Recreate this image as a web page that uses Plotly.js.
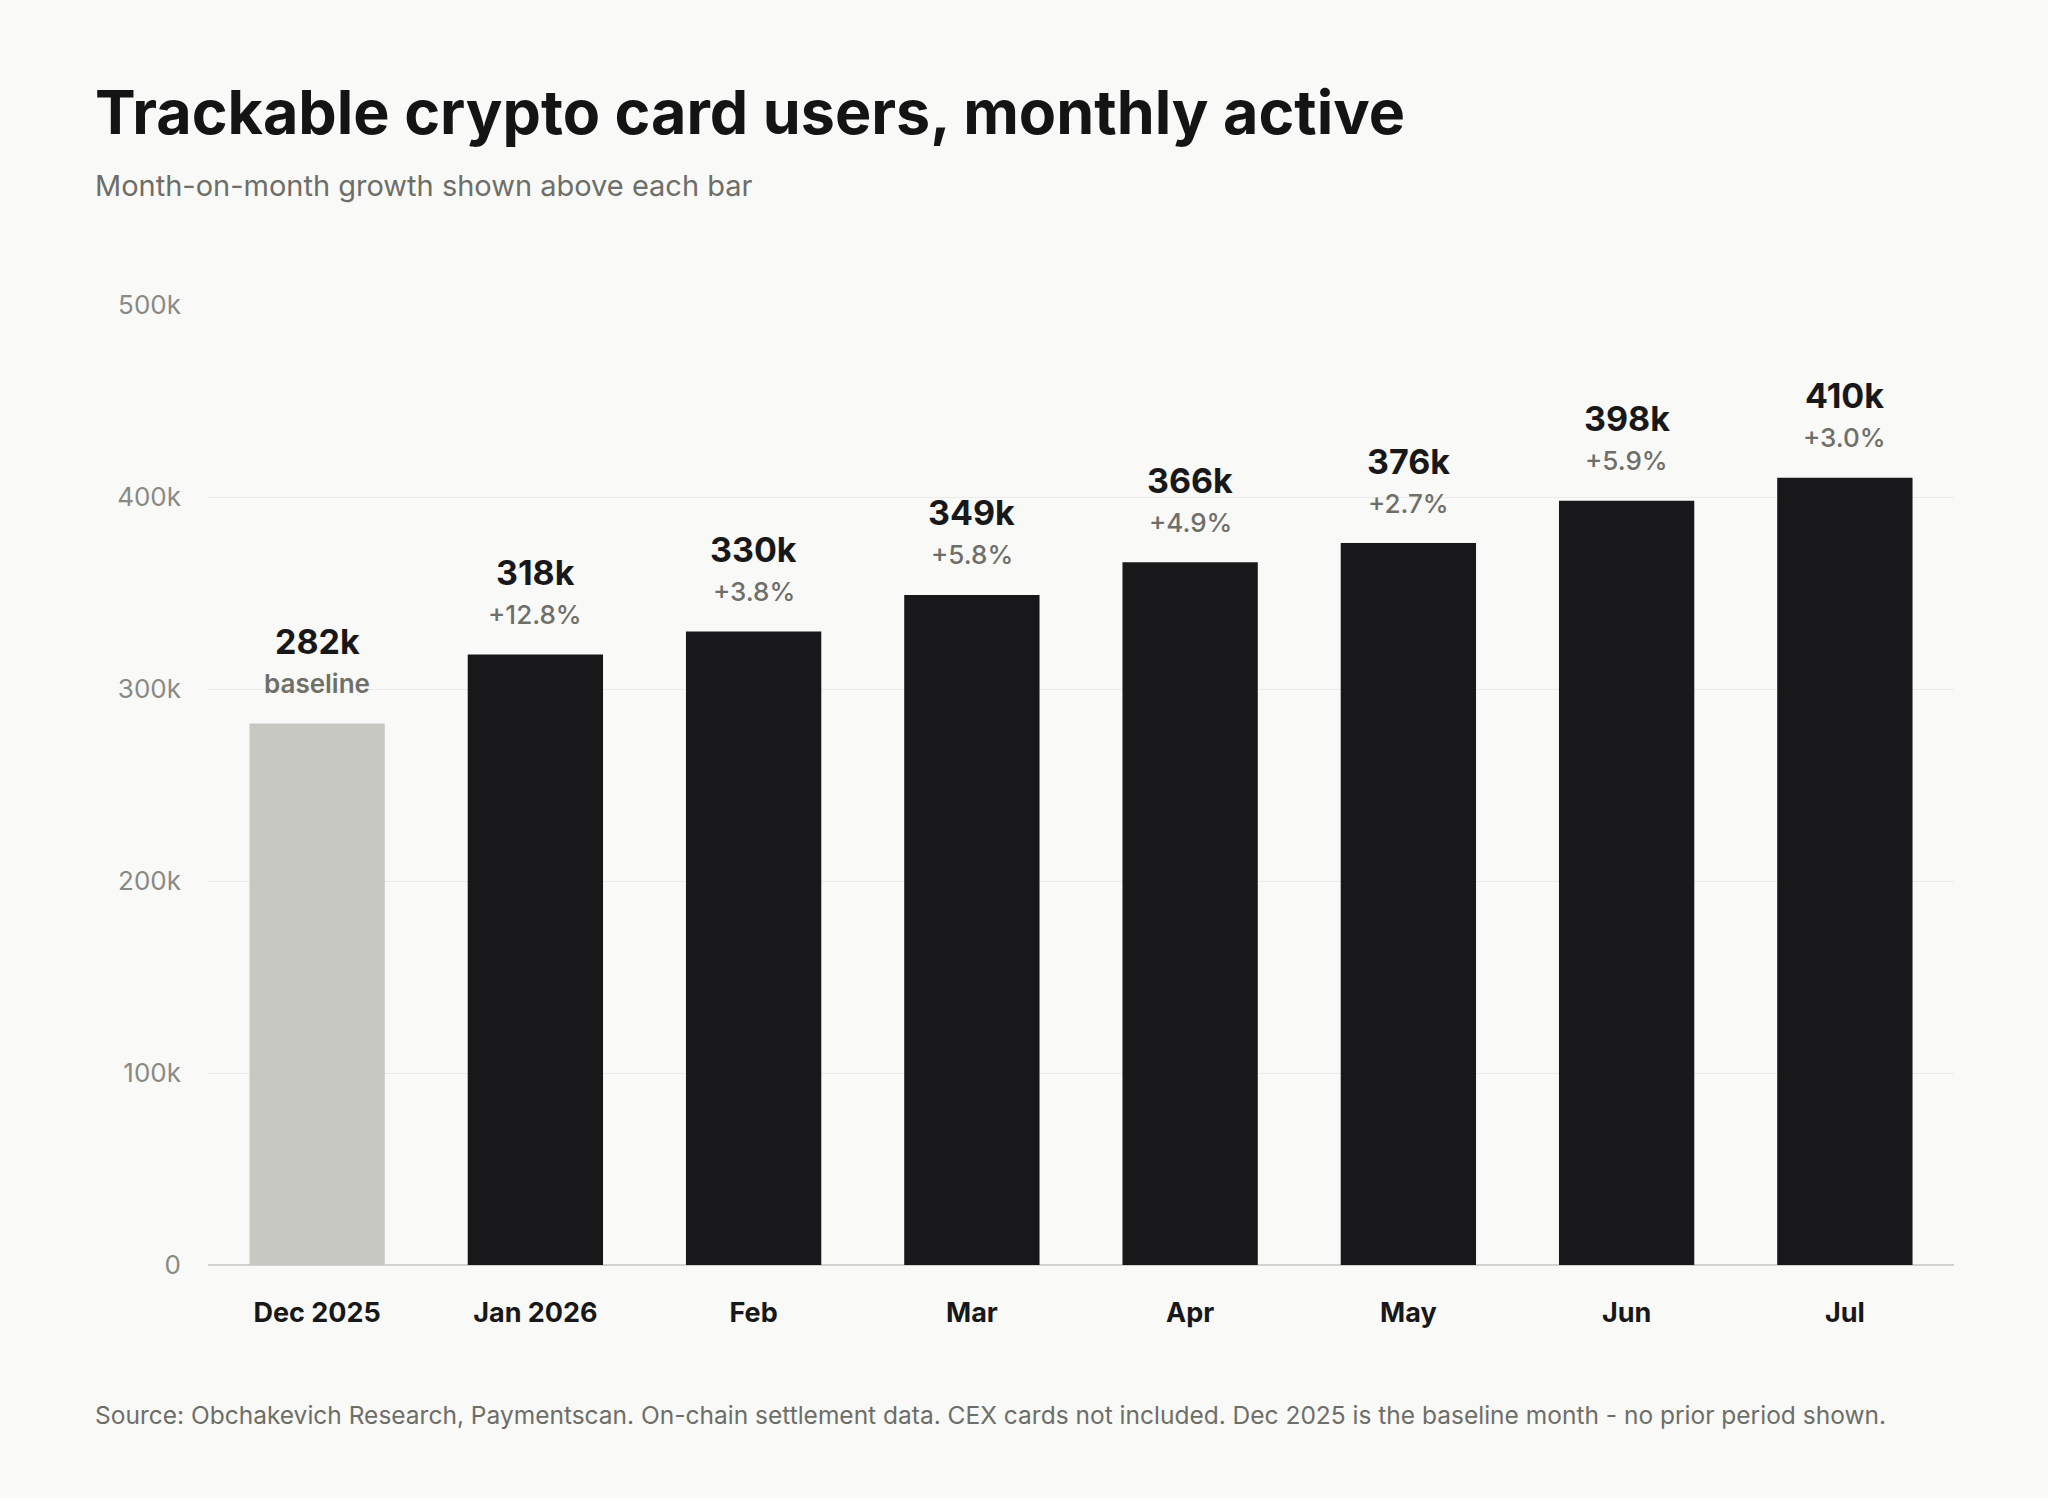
<!DOCTYPE html>
<html>
<head>
<meta charset="utf-8">
<script src="https://cdn.plot.ly/plotly-3.0.1.min.js"></script>
<style>
  html, body { margin: 0; padding: 0; background: #f9f9f7; }
  #chart { width: 2048px; height: 1498px; }
</style>
</head>
<body>
<div id="chart"></div>
<script>
// chart values
const months = ['Dec 2025', 'Jan 2026', 'Feb', 'Mar', 'Apr', 'May', 'Jun', 'Jul'];
const users = [282000, 318000, 330000, 349000, 366000, 376000, 398000, 410000];
const growth = ['baseline', '+12.8%', '+3.8%', '+5.8%', '+4.9%', '+2.7%', '+5.9%', '+3.0%'];
const yTicks = [0, 100000, 200000, 300000, 400000, 500000];
const yTickText = ['0', '100k', '200k', '300k', '400k', '500k'];

const FONT = 'Inter, "Noto Sans", sans-serif';
const BG = '#f9f9f7';

// first month is the baseline, drawn in grey
let barColors = users.map(function (v, i) { return i === 0 ? '#c8c8c2' : '#18181a'; });

let trace = {
    x: months,
    y: users,
    type: 'bar',
    marker: { color: barColors, line: { width: 0 } },
    hoverinfo: 'none'
};

let annotations = [];
for (let i = 0; i < months.length; i++) {
    annotations.push({
        x: months[i], y: users[i], xref: 'x', yref: 'y',
        text: Math.round(users[i] / 1000) + 'k',
        showarrow: false, yanchor: 'middle', yshift: 82,
        font: { family: FONT, size: 34, color: '#18181a', weight: 700 }
    });
    annotations.push({
        x: months[i], y: users[i], xref: 'x', yref: 'y',
        text: growth[i],
        showarrow: false, yanchor: 'middle', yshift: 40,
        font: { family: FONT, size: 26, color: '#6f6f6a', weight: i === 0 ? 600 : 500 }
    });
}

// title, subtitle and footnote
annotations.push({
    xref: 'paper', yref: 'paper', x: -0.066, y: 1.201,
    xanchor: 'left', yanchor: 'middle', showarrow: false,
    text: 'Trackable crypto card users, monthly active',
    font: { family: FONT, size: 61, color: '#141414', weight: 700 }
});
annotations.push({
    xref: 'paper', yref: 'paper', x: -0.066, y: 1.125,
    xanchor: 'left', yanchor: 'middle', showarrow: false,
    text: 'Month-on-month growth shown above each bar',
    font: { family: FONT, size: 29, color: '#6e6e69' }
});
annotations.push({
    xref: 'paper', yref: 'paper', x: -0.066, y: -0.156,
    xanchor: 'left', yanchor: 'middle', showarrow: false,
    text: 'Source: Obchakevich Research, Paymentscan. On-chain settlement data. CEX cards not included. Dec 2025 is the baseline month - no prior period shown.',
    font: { family: FONT, size: 24.5, color: '#6e6e69' }
});

let layout = {
    width: 2048,
    height: 1498,
    paper_bgcolor: BG,
    plot_bgcolor: BG,
    margin: { l: 208, r: 94, t: 305, b: 233 },
    showlegend: false,
    bargap: 0.38,
    font: { family: FONT },
    xaxis: {
        type: 'category',
        showgrid: false,
        zeroline: false,
        showline: false,
        ticks: '',
        ticklabelstandoff: 29,
        tickfont: { family: FONT, size: 27, color: '#18181a', weight: 700 },
        fixedrange: true
    },
    yaxis: {
        range: [0, 500000],
        tickvals: yTicks,
        ticktext: yTickText,
        showgrid: true,
        gridcolor: '#ebebe7',
        gridwidth: 1,
        zeroline: true,
        zerolinecolor: '#d3d3ce',
        zerolinewidth: 2,
        showline: false,
        ticks: '',
        ticklabelstandoff: 26,
        tickfont: { family: FONT, size: 26, color: '#8a8a84' },
        fixedrange: true
    },
    annotations: annotations
};

Plotly.newPlot('chart', [trace], layout, { displayModeBar: false, staticPlot: true });
</script>
</body>
</html>
